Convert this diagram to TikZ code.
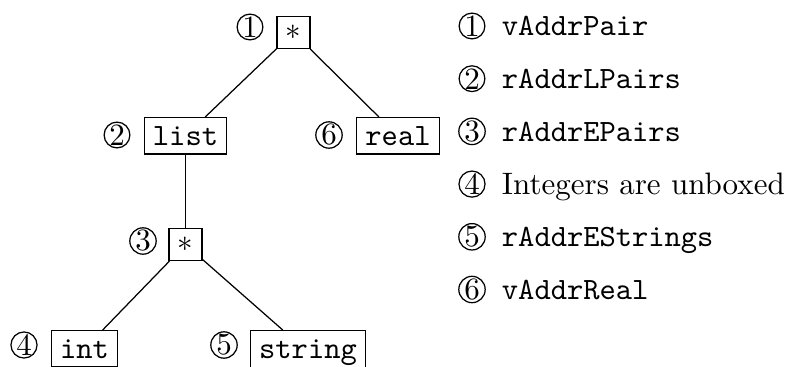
\documentclass[tikz,border=0pt]{standalone}

\tikzset{tbox/.style={draw,font=\ttfamily,inner sep=2.8pt,anchor=north},
         num/.style={circle,draw,inner sep=0pt}}

\begin{document}
\begin{tikzpicture}[x=0.3226pt,y=-0.3226pt]
\useasboundingbox (0,0) rectangle (789,367);

\node[tbox] (root) at (293.5,16) {$*$};
\node[tbox] (list) at (185.5,117) {list};
\node[tbox] (real) at (398,117) {real};
\node[tbox] (pair) at (185.5,228) {$*$};
\node[tbox] (int) at (84.5,330) {int};
\node[tbox] (str) at (308,330) {string};

\node[num] (n1) at (250,27) {1};
\node[num] (n2) at (117,135) {2};
\node[num] (n6) at (329,135) {6};
\node[num] (n3) at (143,241) {3};
\node[num] (n4) at (24,345) {4};
\node[num] (n5) at (224,345) {5};

\draw (root) -- (list);
\draw (root) -- (real);
\draw (list) -- (pair);
\draw (pair) -- (int);
\draw (pair) -- (str);

% key
\node[num] (k1) at (472,26) {1};
\node[num] (k2) at (472,78.7) {2};
\node[num] (k3) at (472,131.4) {3};
\node[num] (k4) at (472,184.1) {4};
\node[num] (k5) at (472,236.8) {5};
\node[num] (k6) at (472,289.5) {6};
\node[anchor=base west,font=\ttfamily] (t1) at (491,36) {vAddrPair};
\node[anchor=base west,font=\ttfamily] (t2) at (491,88.7) {rAddrLPairs};
\node[anchor=base west,font=\ttfamily] (t3) at (491,141.4) {rAddrEPairs};
\node[anchor=base west] (t4) at (491,194.1) {Integers are unboxed};
\node[anchor=base west,font=\ttfamily] (t5) at (491,246.8) {rAddrEStrings};
\node[anchor=base west,font=\ttfamily] (t6) at (491,299.5) {vAddrReal};

\end{tikzpicture}
\end{document}
